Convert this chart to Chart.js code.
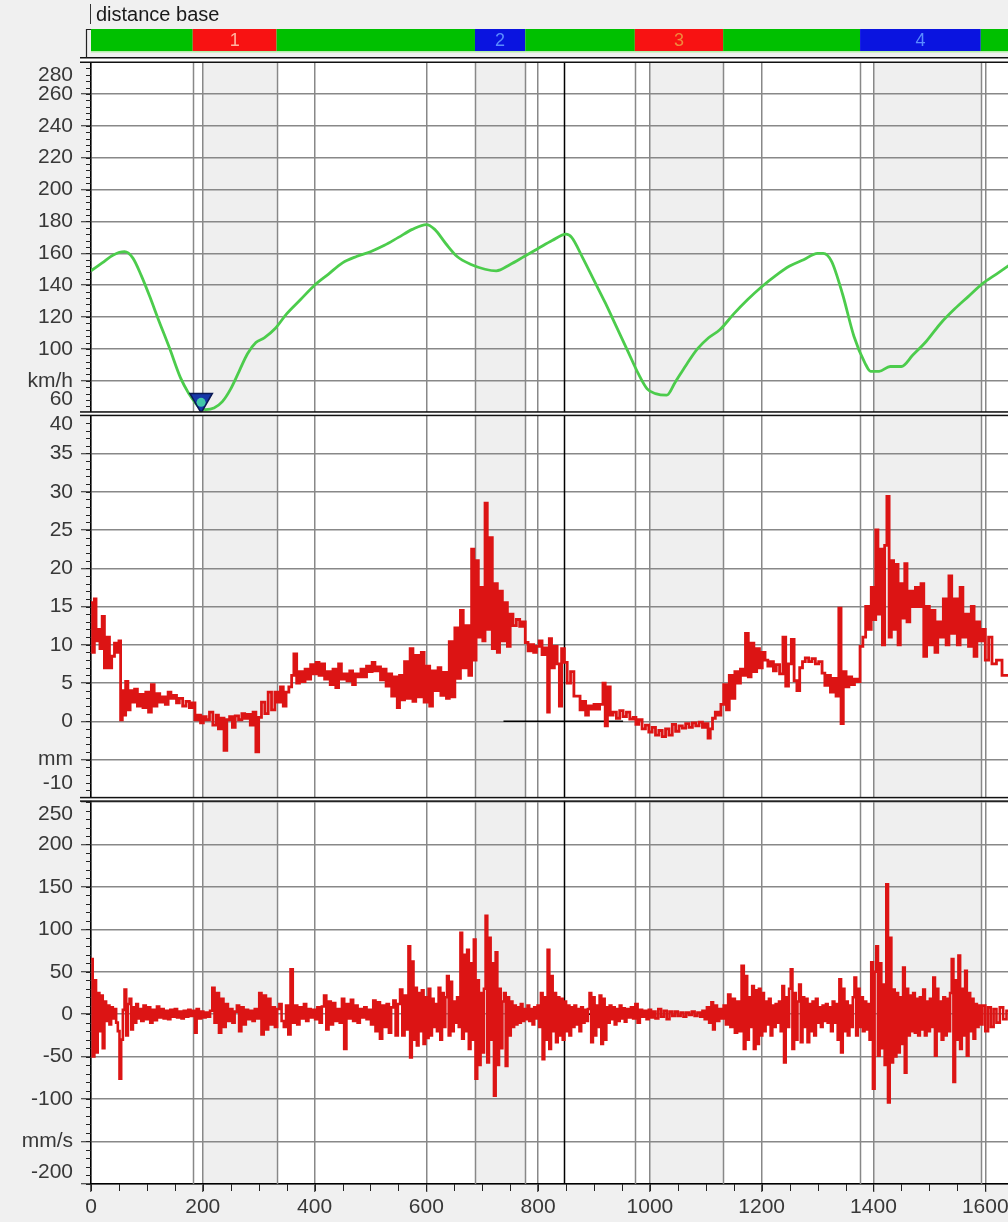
<!DOCTYPE html>
<html>
<head>
<meta charset="utf-8">
<title>distance base</title>
<script src="https://cdn.jsdelivr.net/npm/chart.js@4.4.1/dist/chart.umd.min.js"></script>
<style>
  html, body { margin: 0; padding: 0; background: #f0f0f0; overflow: hidden; }
  #wrap { position: relative; width: 1008px; height: 1222px; overflow: hidden; }
  #chart { position: absolute; left: 0; top: 0; }
  #title {
    position: absolute; left: 90px; top: 4px; z-index: 2;
    border-left: 1.5px solid #333; padding-left: 5px;
    font: 20px/20px "Liberation Sans", Arial, sans-serif; color: #1a1a1a;
  }
</style>
</head>
<body>
<div id="wrap">
  <div id="title">distance base</div>
  <canvas id="chart" width="1040" height="1222"></canvas>
</div>
<script>
// ============================================
// DATA (distance in m)
// ============================================

const distTicks   = [0, 200, 400, 600, 800, 1000, 1200, 1400, 1600];
const speedTicks  = [60, 80, 100, 120, 140, 160, 180, 200, 220, 240, 260, 280];
const travelTicks = [-10, -5, 0, 5, 10, 15, 20, 25, 30, 35, 40];
const velTicks    = [-200, -150, -100, -50, 0, 50, 100, 150, 200, 250];

// track sections (top strip)
const sectionStart = [0, 182, 332, 687, 777, 973, 1131, 1376, 1592];
const sectionEnd   = [182, 332, 687, 777, 973, 1131, 1376, 1592, 1672];
const sectionColor = ['#00c000', '#f81212', '#00c000', '#0a14e0', '#00c000', '#f81212', '#00c000', '#0a14e0', '#00c000'];
const sectionLabel = ['', '1', '', '2', '', '3', '', '4', ''];
const sectionLabelColor = ['', '#ffb4a0', '', '#5a8cff', '', '#f0883c', '', '#5a8cff', ''];

// shaded zones
const shadeStart = [200, 687, 1000, 1400];
const shadeEnd   = [332, 777, 1131, 1592];

// cursor + min speed marker
const cursorDist = 847;
const crossTravel = [738, 952];
const crossVel    = [746, 942];
const markerDist = 197;
const markerKmh  = 68;

const speedDist = [
  0, 20, 40, 60, 75, 90, 105, 120, 140, 160,
  175, 185, 195, 205, 220, 235, 250, 265, 280, 295,
  310, 330, 350, 375, 400, 425, 450, 475, 500, 525,
  550, 575, 600, 615, 635, 655, 680, 705, 725, 750,
  775, 800, 825, 850, 860, 880, 900, 920, 940, 960,
  980, 995, 1010, 1030, 1045, 1065, 1085, 1105, 1125, 1150,
  1175, 1200, 1225, 1250, 1275, 1300, 1310, 1325, 1345, 1365,
  1385, 1395, 1410, 1430, 1450, 1470, 1495, 1520, 1545, 1570,
  1595, 1620, 1645
];
const speedKmh = [
  149, 154, 159, 161, 157, 146, 133, 119, 101, 82,
  72, 67, 63, 62, 63, 67, 75, 86, 97, 104,
  107, 113, 122, 131, 140, 147, 154, 158, 161, 165,
  170, 175, 178, 175, 166, 158, 153, 150, 149, 153,
  158, 163, 168, 172, 170, 157, 143, 129, 114, 99,
  84, 75, 72, 71, 79, 90, 100, 107, 112, 122,
  131, 139, 146, 152, 156, 160, 160, 155, 134, 108,
  91, 86, 86, 89, 89, 96, 105, 116, 125, 133,
  141, 147, 153
];

const travelDist = [
  0, 3, 6, 9, 13, 16, 20, 24, 28, 33,
  37, 42, 46, 50, 53, 56, 59, 62, 66, 70,
  74, 78, 83, 88, 93, 98, 103, 108, 113, 118,
  123, 128, 133, 138, 143, 148, 153, 158, 164, 170,
  176, 181, 186, 191, 196, 201, 206, 212, 218, 224,
  228, 233, 238, 243, 248, 253, 258, 264, 270, 275,
  280, 285, 290, 295, 300, 305, 311, 317, 323, 329,
  334, 339, 344, 349, 354, 359, 363, 368, 373, 378,
  383, 388, 393, 398, 403, 408, 413, 418, 423, 428,
  433, 438, 443, 448, 453, 458, 463, 468, 473, 478,
  483, 488, 493, 498, 503, 508, 513, 518, 523, 528,
  533, 538, 543, 548, 552, 556, 561, 566, 571, 576,
  581, 586, 591, 596, 601, 606, 611, 616, 621, 626,
  631, 636, 641, 646, 651, 656, 661, 666, 671, 676,
  681, 685, 689, 693, 697, 701, 705, 709, 713, 718,
  722, 727, 731, 736, 740, 745, 750, 755, 761, 767,
  772, 777, 782, 787, 792, 797, 802, 807, 812, 817,
  820, 824, 829, 834, 838, 842, 847, 852, 858, 864,
  870, 875, 880, 885, 890, 895, 900, 905, 910, 916,
  920, 924, 929, 934, 940, 946, 952, 958, 964, 970,
  975, 980, 986, 992, 998, 1004, 1010, 1016, 1022, 1028,
  1034, 1040, 1046, 1052, 1058, 1064, 1070, 1076, 1082, 1088,
  1094, 1099, 1104, 1108, 1112, 1117, 1122, 1127, 1132, 1137,
  1142, 1147, 1152, 1157, 1162, 1167, 1171, 1176, 1181, 1186,
  1191, 1196, 1201, 1206, 1211, 1216, 1221, 1226, 1232, 1238,
  1243, 1248, 1253, 1258, 1263, 1268, 1273, 1278, 1284, 1290,
  1296, 1302, 1308, 1313, 1318, 1323, 1328, 1333, 1338, 1342,
  1346, 1351, 1356, 1361, 1366, 1371, 1376, 1381, 1386, 1391,
  1396, 1400, 1404, 1408, 1412, 1416, 1420, 1424, 1428, 1432,
  1436, 1440, 1444, 1448, 1452, 1456, 1460, 1465, 1470, 1475,
  1480, 1485, 1490, 1495, 1500, 1505, 1510, 1515, 1520, 1525,
  1530, 1535, 1540, 1545, 1550, 1555, 1560, 1565, 1570, 1575,
  1580, 1585, 1590, 1595, 1600, 1606, 1612, 1620, 1630, 1645
];
const travelMm = [
  15.5, 9, 16, 10.5, 12, 9.5, 13.7, 7, 11, 7,
  8.5, 10.2, 9, 10.5, 0.2, 4, 0.8, 5.2, 1.5, 4,
  2.5, 4.2, 2, 3.5, 1.8, 3.8, 1.2, 4.8, 2, 3.6,
  2.5, 3.2, 2.2, 3.8, 3, 3.4, 2.4, 3, 2, 2.6,
  1.8, 2.4, 0.2, 0.8, -0.2, 0.6, 0.2, 1.2, -0.5, 0.8,
  -1, 0.4, -3.8, 0.2, 0.6, -0.8, 0.7, 0.2, 1, 0.4,
  0.9, -0.5, 1.2, -4, 0.5, 2.5, 1, 3.8, 1.5, 3.8,
  2.5, 4.5, 2, 3.8, 4.5, 6, 8.8, 5, 6.5, 5.2,
  6.8, 5.5, 7.4, 6.2, 7.7, 6, 7.5, 5.5, 6.5, 4.8,
  6.8, 4.4, 7.5, 5.5, 6.2, 5.3, 6.6, 4.8, 6.2, 5.8,
  6.8, 5.8, 7.2, 6.5, 7.7, 6.6, 7.1, 5.4, 6.8, 4.6,
  6.2, 3.3, 5.8, 1.8, 6, 2.8, 7.8, 3, 9.5, 2.6,
  8.6, 3.2, 9, 2.5, 7.2, 2, 6.6, 4, 7, 3.4,
  6.4, 3, 10.4, 3.2, 12.2, 5.6, 14.5, 7, 12.5, 6,
  22.5, 8, 21, 11, 17.5, 10.5, 28.5, 12, 24, 9.5,
  18, 9, 17, 10.5, 15.5, 9.8, 14, 12.5, 13.3, 12.4,
  13, 10.3, 9.2, 10, 9, 9.8, 10.5, 8.7, 9.6, 1.2,
  10.8, 7, 9.8, 7.5, 2, 9.5, 7.7, 5, 6.5, 3.3,
  3.3, 1.5, 2.6, 0.8, 2, 1.6, 2.2, 1.6, 2.2, 5,
  -0.6, 4.5, 0.8, 1.2, 0.4, 1.4, 0.6, 1.2, 0.3, 0.5,
  -0.4, 0.2, -1, -0.5, -1.4, -0.8, -1.8, -1.2, -2, -1,
  -1.8, -0.4, -1.3, -0.6, -0.9, -0.3, -0.8, -0.2, -0.6, -0.1,
  -0.8, -0.3, -2.2, -1, 0.4, 1.2, 0.8, 2.2, 4.8, 1.5,
  6, 3, 6.5, 5, 6.8, 6, 11.5, 5.8, 10.2, 6.5,
  9.5, 7, 9, 8, 7.2, 7.8, 6.6, 7.4, 6.2, 11,
  4.6, 7.5, 10.7, 5.3, 4, 7, 7.8, 8.3, 7.8, 8.2,
  7.5, 7.8, 6.3, 4.7, 6, 3.8, 5.6, 3.3, 14.8, -0.3,
  6.5, 4.5, 5.8, 4.8, 5.5, 5.2, 9.8, 11, 15, 12,
  17.5, 13.3, 25, 14, 22.5, 10, 23, 29.4, 11, 21,
  12, 20.5, 10, 18, 13.5, 20.6, 13, 17, 15, 17.5,
  15, 18, 8.5, 15, 10, 14.5, 9, 13, 11, 16,
  10, 19, 11.5, 16, 10, 17.5, 11, 14, 9.8, 15,
  8.5, 13, 10.5, 12, 8, 11, 7.5, 8, 6, 6.5
];

const velDist = [
  0, 3, 6, 9, 12, 15, 18, 21, 24, 27,
  30, 33, 36, 39, 42, 45, 48, 51, 54, 57,
  60, 63, 66, 69, 72, 75, 78, 81, 84, 87,
  90, 94, 98, 102, 106, 110, 114, 118, 122, 126,
  130, 134, 138, 142, 146, 150, 154, 158, 162, 166,
  170, 174, 178, 182, 186, 189, 193, 197, 201, 205,
  209, 213, 217, 221, 225, 229, 233, 237, 241, 245,
  249, 253, 257, 261, 265, 269, 273, 277, 281, 285,
  289, 293, 297, 301, 305, 309, 313, 317, 321, 325,
  329, 333, 337, 341, 345, 349, 353, 357, 361, 365,
  369, 373, 377, 381, 385, 389, 393, 397, 401, 405,
  409, 413, 417, 421, 425, 429, 433, 437, 441, 445,
  449, 453, 457, 461, 465, 469, 473, 477, 481, 485,
  489, 493, 497, 501, 505, 509, 513, 517, 521, 525,
  529, 533, 537, 541, 545, 549, 553, 557, 561, 565,
  568, 571, 574, 577, 580, 583, 586, 589, 592, 595,
  598, 601, 604, 607, 610, 613, 616, 619, 622, 625,
  628, 631, 634, 637, 640, 643, 646, 649, 652, 655,
  658, 661, 664, 667, 670, 673, 676, 679, 682, 685,
  688, 691, 694, 697, 700, 703, 706, 709, 712, 715,
  718, 721, 724, 727, 730, 733, 736, 739, 742, 745,
  748, 751, 754, 757, 760, 763, 766, 769, 772, 775,
  778, 781, 784, 787, 790, 793, 796, 799, 802, 805,
  808, 811, 814, 817, 820, 823, 826, 829, 832, 835,
  838, 841, 844, 847, 850, 853, 856, 859, 862, 865,
  868, 871, 874, 877, 880, 883, 886, 889, 892, 895,
  898, 901, 904, 907, 910, 913, 916, 919, 922, 925,
  928, 931, 934, 937, 940, 943, 946, 949, 952, 955,
  958, 962, 966, 970, 974, 978, 982, 986, 990, 994,
  998, 1002, 1006, 1010, 1015, 1020, 1025, 1030, 1035, 1040,
  1045, 1050, 1055, 1060, 1065, 1070, 1075, 1080, 1085, 1090,
  1094, 1098, 1102, 1106, 1110, 1113, 1116, 1120, 1124, 1128,
  1132, 1136, 1140, 1144, 1148, 1152, 1156, 1160, 1164, 1168,
  1171, 1174, 1177, 1180, 1183, 1186, 1189, 1192, 1195, 1198,
  1201, 1204, 1207, 1210, 1213, 1216, 1219, 1222, 1225, 1228,
  1231, 1234, 1237, 1240, 1243, 1246, 1249, 1252, 1255, 1258,
  1261, 1264, 1267, 1270, 1273, 1276, 1279, 1282, 1285, 1288,
  1291, 1294, 1297, 1300, 1303, 1306, 1309, 1312, 1315, 1318,
  1321, 1324, 1327, 1330, 1333, 1336, 1339, 1342, 1345, 1348,
  1351, 1354, 1357, 1360, 1363, 1366, 1369, 1372, 1375, 1378,
  1381, 1384, 1387, 1390, 1393, 1396, 1399, 1402, 1405, 1408,
  1411, 1414, 1417, 1420, 1423, 1426, 1429, 1432, 1435, 1438,
  1441, 1444, 1447, 1450, 1453, 1456, 1459, 1462, 1465, 1468,
  1471, 1474, 1477, 1480, 1483, 1486, 1489, 1492, 1495, 1498,
  1501, 1504, 1507, 1510, 1513, 1516, 1519, 1522, 1525, 1528,
  1531, 1534, 1537, 1540, 1543, 1546, 1549, 1552, 1555, 1558,
  1561, 1564, 1567, 1570, 1573, 1576, 1579, 1582, 1585, 1588,
  1591, 1595, 1600, 1605, 1610, 1615, 1620, 1626, 1632, 1638, 1645
];
const velMms = [
  65, -50, 40, -45, 25, -20, 22, -40, 15, -8,
  10, -12, 8, -5, 6, -10, -20, -76, -30, 5,
  29, -25, 12, 18, -18, 8, -10, 12, -5, 6,
  -8, 10, -6, 8, -10, 5, -7, 9, -4, 6,
  -5, 4, -6, 5, -3, 6, -4, 3, -5, 4,
  -3, 5, -2, 4, -22, 6, -5, 3, -4, 2,
  -3, 4, 31, -10, 25, -22, 18, -15, 12, -8,
  6, -10, 3, 10, -20, 8, -12, 5, -6, 4,
  -8, 6, -5, 25, -24, 22, -18, 18, -12, 8,
  -15, 6, 12, -8, -15, 10, -24, 53, -10, 10,
  -12, 8, -5, 12, -8, 6, -4, 5, -6, 8,
  -10, 9, 22, -18, 15, -12, 13, -8, 6, -10,
  18, -41, 12, -5, 17, -8, 10, -10, 6, -4,
  8, -6, 5, -12, 16, -20, 14, -29, 10, -15,
  12, -22, 8, 16, -25, 12, 29, -25, 22, -18,
  80, -51, 62, -30, 31, -37, 25, -20, 28, -35,
  20, -28, 30, -25, 18, -15, 12, -20, 31, -30,
  25, -15, 20, 45, -25, 38, -20, 15, -10, 20,
  -15, 96, -29, 70, -20, 76, -41, 60, -30, 88,
  -76, 40, -60, 25, -45, 30, 116, -57, 90, -30,
  60, -96, 73, -60, 30, -40, 15, 25, -61, 20,
  -25, 15, -15, 10, -12, 8, -10, 12, -8, 6,
  -6, 10, -8, 6, -12, 8, -5, 10, -15, 25,
  -53, 20, -30, 76, -41, 45, -20, 25, -33, 20,
  -25, 18, -30, 15, -20, 10, -25, 8, -15, 10,
  -12, 6, -20, 8, -10, 5, -8, 6, 25, -33,
  20, -25, 10, -15, 22, -35, 18, -30, 8, -10,
  10, -6, 8, -12, 6, -8, 10, -5, 7, -9,
  6, -4, 8, -5, 12, -10, 5, -3, 4, -6,
  5, -4, 3, -5, 6, -3, 4, -6, 3, -2,
  3, -2, 2, -3, 2, -1, 3, -2, 2, -3,
  4, -6, 8, -10, 14, -18, 10, -8, 6, -5,
  10, -12, 23, -15, 18, -22, 15, -20, 57, -41,
  45, -30, 20, -15, 33, -41, 28, -35, 30, -25,
  25, -20, 15, -12, 18, -25, 10, -15, 12, -10,
  15, -20, 33, -57, 20, -15, 30, 53, -41, 25,
  -30, 15, 35, -33, 20, -15, 18, -33, 12, -20,
  15, -25, 18, -10, 8, -15, 10, -8, 12, -10,
  8, -20, 15, -10, 12, -30, 41, -45, 30, -20,
  15, -25, 10, -15, 20, 43, -25, 30, -15, 20,
  -20, 15, -18, 12, -30, 61, -88, 50, 80, -49,
  60, -40, 35, -60, 153, -104, 90, -57, 29, -50,
  25, -45, 20, -35, 55, -69, 30, -25, 22, -20,
  25, -22, 18, -25, 20, -18, 29, -25, 15, -20,
  18, -15, 43, -49, 30, -20, 15, -30, 20, -25,
  18, -20, 25, 65, -80, 40, -30, 69, -41, 30,
  -25, 51, -49, 25, -20, 18, -29, 12, -15, 10,
  -12, 10, -20, 8, -15, 6, -10, 8, -6, 4, -3
];

// ============================================
// HELPERS
// ============================================

const FONT = '"Liberation Sans", Arial, sans-serif';
const GRID = '#888888';
const INK  = '#383838';

const toPts = (xs, ys) => xs.map((x, i) => ({ x, y: ys[i] }));

// edge labels are pushed inside the panel (second empty line + line height)
function yTickOpts(unit, unitAt, shiftTop, shiftBottom) {
  return {
    autoSkip: false,
    padding: 8,
    color: INK,
    callback: (v, i, t) => {
      if (v === unitAt) return unit;
      if (i === t.length - 1) return ['', String(v)];
      if (i === 0) return [String(v), ''];
      return String(v);
    },
    font: (c) => {
      const n = (c.scale && c.scale.ticks) ? c.scale.ticks.length : 0;
      let lh = 1.2;
      if (c.index === n - 1) lh = (2 * shiftTop) + 'px';
      else if (c.index === 0) lh = (2 * shiftBottom) + 'px';
      return { family: FONT, size: 21, lineHeight: lh };
    },
  };
}

function yScale(values, min, max, weight, ticks) {
  return {
    type: 'linear', axis: 'y', position: 'left', stack: 'panels', stackWeight: weight,
    min, max,
    afterBuildTicks: (s) => { s.ticks = values.map(v => ({ value: v })); },
    afterFit: (s) => { s.width = 91; },
    grid: { color: GRID, lineWidth: 1.5, tickLength: 10, tickColor: '#222', tickWidth: 1 },
    border: { display: true, color: '#000', width: 1.5 },
    ticks,
  };
}

// ============================================
// PLUGIN: shading, section lines, cursor, strip
// ============================================

const panelPlugin = {
  id: 'panels',
  beforeDraw(chart) {
    const { ctx, chartArea: a, scales: { x } } = chart;
    ctx.save();
    ctx.fillStyle = '#ffffff';
    ctx.fillRect(a.left, a.top, a.right - a.left, a.bottom - a.top);
    ctx.fillStyle = '#efefef';
    shadeStart.forEach((s, i) => {
      const x0 = x.getPixelForValue(s), x1 = x.getPixelForValue(shadeEnd[i]);
      ctx.fillRect(x0, a.top, x1 - x0, a.bottom - a.top);
    });
    ctx.restore();
  },
  beforeDatasetsDraw(chart) {
    const { ctx, chartArea: a, scales: { x } } = chart;
    ctx.save();
    ctx.strokeStyle = GRID;
    ctx.lineWidth = 1.5;
    ctx.beginPath();
    sectionEnd.slice(0, -1).forEach(d => {
      const px = Math.round(x.getPixelForValue(d)) + 0.5;
      ctx.moveTo(px, a.top); ctx.lineTo(px, a.bottom);
    });
    ctx.stroke();
    // cursor
    ctx.strokeStyle = '#000';
    ctx.lineWidth = 1.5;
    const cx = Math.round(x.getPixelForValue(cursorDist)) + 0.5;
    ctx.beginPath(); ctx.moveTo(cx, a.top); ctx.lineTo(cx, a.bottom); ctx.stroke();
    ctx.restore();
  },
  afterDraw(chart) {
    const { ctx, chartArea: a, scales } = chart;
    const { x, ySpeed, yTravel, yVel } = scales;
    const W = chart.width;
    ctx.save();

    // minor ticks
    ctx.strokeStyle = '#222';
    ctx.lineWidth = 1;
    ctx.beginPath();
    [[ySpeed, 4], [yTravel, 1], [yVel, 10]].forEach(([s, step]) => {
      for (let v = Math.ceil(s.min / step) * step; v <= s.max + 1e-6; v += step) {
        const py = Math.round(s.getPixelForValue(v)) + 0.5;
        ctx.moveTo(a.left - 5, py); ctx.lineTo(a.left, py);
      }
    });
    for (let v = 0; v <= x.max; v += 50) {
      const px = Math.round(x.getPixelForValue(v)) + 0.5;
      ctx.moveTo(px, a.bottom); ctx.lineTo(px, a.bottom + 7);
    }
    ctx.stroke();

    // double separators
    ctx.fillStyle = '#ffffff';
    [ySpeed.bottom, yTravel.bottom].forEach(b => ctx.fillRect(80, b - 1.5, W - 80, 3));
    ctx.fillRect(80, a.top - 4, W - 80, 4);
    ctx.fillStyle = '#111';
    [ySpeed.bottom, yTravel.bottom].forEach(b => {
      ctx.fillRect(80, b - 2.5, W - 80, 1.5);
      ctx.fillRect(80, b + 1, W - 80, 1.5);
    });
    ctx.fillRect(80, a.top - 5, W - 80, 1.5);
    ctx.fillRect(80, a.top - 0.5, W - 80, 1.5);

    // section strip
    const top = 29, h = 22;
    ctx.font = '18px ' + FONT;
    ctx.textAlign = 'center';
    ctx.textBaseline = 'middle';
    sectionStart.forEach((s, i) => {
      const x0 = x.getPixelForValue(s), x1 = x.getPixelForValue(sectionEnd[i]);
      ctx.fillStyle = sectionColor[i];
      ctx.fillRect(x0, top, x1 - x0, h);
      if (sectionLabel[i]) {
        ctx.fillStyle = sectionLabelColor[i];
        ctx.fillText(sectionLabel[i], (x0 + x1) / 2, top + h / 2 + 1);
      }
    });
    ctx.fillStyle = '#b4eeaa';
    ctx.fillRect(x.getPixelForValue(0), top + h, W, 1.5);
    ctx.strokeStyle = '#222';
    ctx.lineWidth = 1.2;
    ctx.beginPath();
    ctx.moveTo(86.5, top); ctx.lineTo(86.5, a.top - 4.5);
    ctx.moveTo(86, top + 0.5); ctx.lineTo(91, top + 0.5);
    ctx.stroke();
    ctx.restore();
  },
};

// ============================================
// CHART
// ============================================

const RED = '#dc1414';

new Chart(document.getElementById('chart').getContext('2d'), {
  type: 'line',
  data: {
    datasets: [
      {
        label: 'speed', data: toPts(speedDist, speedKmh), yAxisID: 'ySpeed',
        borderColor: '#4ccc4c', borderWidth: 2.8, pointRadius: 0,
        cubicInterpolationMode: 'monotone', order: 1,
      },
      {
        label: 'travel', data: toPts(travelDist, travelMm), yAxisID: 'yTravel',
        borderColor: RED, borderWidth: 2.8, pointRadius: 0, stepped: true, order: 1,
      },
      {
        label: 'velocity', data: toPts(velDist, velMms), yAxisID: 'yVel',
        borderColor: RED, borderWidth: 2.6, pointRadius: 0, stepped: true, order: 1,
      },
      {
        label: 'cross travel', data: toPts(crossTravel, [0, 0]), yAxisID: 'yTravel',
        borderColor: '#000', borderWidth: 1.5, pointRadius: 0, order: 5,
      },
      {
        label: 'cross vel', data: toPts(crossVel, [0, 0]), yAxisID: 'yVel',
        borderColor: '#000', borderWidth: 1.5, pointRadius: 0, order: 5,
      },
      {
        label: 'marker', data: [{ x: markerDist, y: markerKmh }], yAxisID: 'ySpeed',
        showLine: false, pointStyle: 'triangle', rotation: 180, pointRadius: 13,
        backgroundColor: '#1638a8', borderColor: '#0b1a55', borderWidth: 1.5, order: 0,
      },
      {
        label: 'marker dot', data: [{ x: markerDist, y: markerKmh - 1.5 }], yAxisID: 'ySpeed',
        showLine: false, pointStyle: 'circle', pointRadius: 4.5,
        backgroundColor: '#40c8a8', borderWidth: 0, order: -1,
      },
    ],
  },
  options: {
    responsive: false,
    animation: false,
    events: [],
    layout: { padding: { top: 62, left: 0, right: 0, bottom: 0 } },
    plugins: { legend: { display: false }, tooltip: { enabled: false } },
    scales: {
      x: {
        type: 'linear', position: 'bottom', min: 0, max: 1672,
        afterBuildTicks: (s) => { s.ticks = distTicks.map(v => ({ value: v })); },
        afterFit: (s) => { s.height = 37; },
        grid: { color: GRID, lineWidth: 1.5, tickLength: 8, tickColor: '#222', tickWidth: 1 },
        border: { display: true, color: '#000', width: 1.5 },
        ticks: {
          autoSkip: false, maxRotation: 0, padding: 4, color: INK,
          font: { family: FONT, size: 21, lineHeight: 1.1 },
          callback: (v) => String(v),
        },
      },
      yVel:    yScale(velTicks, -200.2, 253.2, 385, yTickOpts('mm/s', -150, 12, 12)),
      yTravel: yScale(travelTicks, -10.2, 40.2, 386, yTickOpts('mm', -5, 9, 15)),
      ySpeed:  yScale(speedTicks, 59.4, 280, 352, yTickOpts('km/h', 80, 13, 14)),
    },
  },
  plugins: [panelPlugin],
});
</script>
</body>
</html>
